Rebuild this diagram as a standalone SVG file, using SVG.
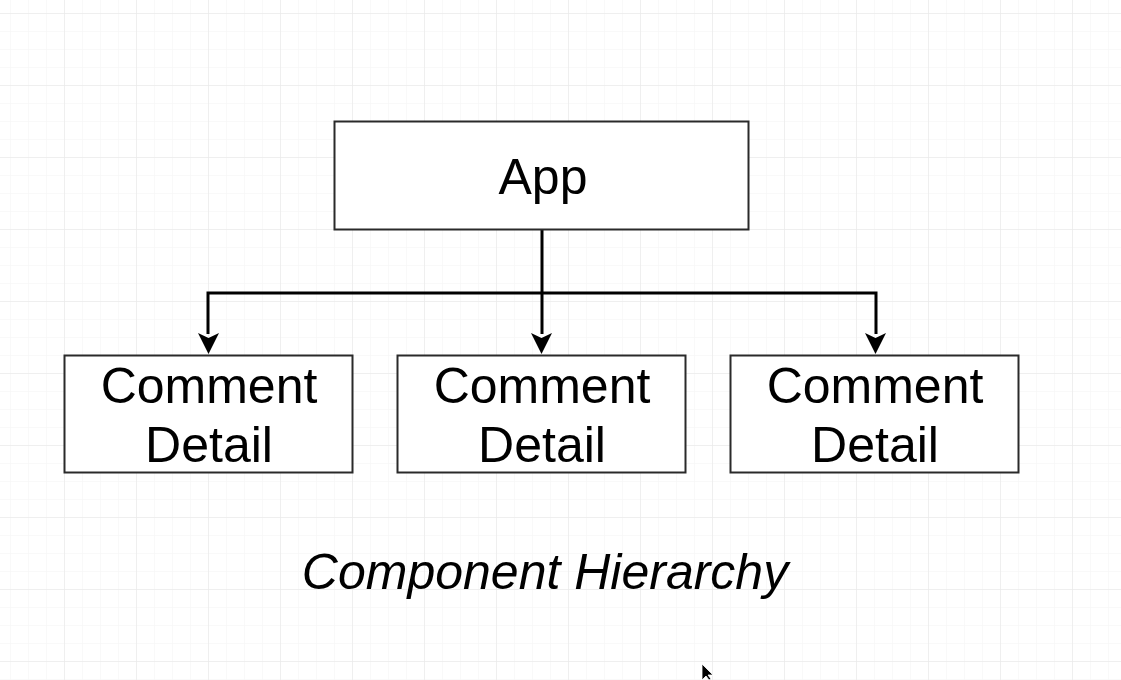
<svg xmlns="http://www.w3.org/2000/svg" width="1121" height="680" viewBox="0 0 1121 680">
  <style>
    .box { fill: #ffffff; stroke: #2a2a2a; stroke-width: 2; }
    .lbl { font-family: "Liberation Sans", Arial, sans-serif; font-size: 50px; fill: #000000; text-anchor: middle; }
    .edge { fill: none; stroke: #000000; stroke-width: 3; }
    .cap { font-family: "Liberation Sans", Arial, sans-serif; font-size: 50px; font-style: italic; fill: #000000; text-anchor: middle; }
  </style>
  <defs>
    <pattern id="minor" x="10" y="13" width="18" height="18" patternUnits="userSpaceOnUse">
      <path d="M0 0 H18 M0 0 V18" fill="none" stroke="#f3f3f3" stroke-width="1"/>
    </pattern>
    <pattern id="major" x="64" y="13" width="72" height="72" patternUnits="userSpaceOnUse">
      <path d="M0 0 H72 M0 0 V72" fill="none" stroke="#e6e6e6" stroke-width="1"/>
    </pattern>
  </defs>
  <rect width="1121" height="680" fill="#ffffff"/>
  <rect width="1121" height="680" fill="url(#minor)"/>
  <rect width="1121" height="680" fill="url(#major)"/>

  <g id="connectors">
    <path class="edge" d="M542 229 V293"/>
    <path class="edge" d="M208 334 V293 H876 V334"/>
    <path class="edge" d="M542 293 V334"/>
    <path d="M198 333 L208.5 338 L219 333 L208.5 354 Z" fill="#000"/>
    <path d="M531 333 L541.5 338 L552 333 L541.5 354 Z" fill="#000"/>
    <path d="M865 333 L875.5 338 L886 333 L875.5 354 Z" fill="#000"/>
  </g>

  <g id="app">
    <rect class="box" x="334.5" y="121.5" width="414" height="108"/>
    <text class="lbl" x="543" y="194">App</text>
  </g>
  <g id="comment1">
    <rect class="box" x="64.5" y="355.5" width="288" height="117"/>
    <text class="lbl" x="209" y="403">Comment</text>
    <text class="lbl" x="209" y="462">Detail</text>
  </g>
  <g id="comment2">
    <rect class="box" x="397.5" y="355.5" width="288" height="117"/>
    <text class="lbl" x="542" y="403">Comment</text>
    <text class="lbl" x="542" y="462">Detail</text>
  </g>
  <g id="comment3">
    <rect class="box" x="730.5" y="355.5" width="288" height="117"/>
    <text class="lbl" x="875" y="403">Comment</text>
    <text class="lbl" x="875" y="462">Detail</text>
  </g>

  <g id="caption">
    <text class="cap" x="545" y="589">Component Hierarchy</text>
  </g>

  <g id="cursor">
    <path d="M702 664 L702 680 L706 676 L709 680 L711 679 L708 675 L713 675 Z" fill="#000" stroke="#fff" stroke-width="0.8"/>
  </g>
</svg>
